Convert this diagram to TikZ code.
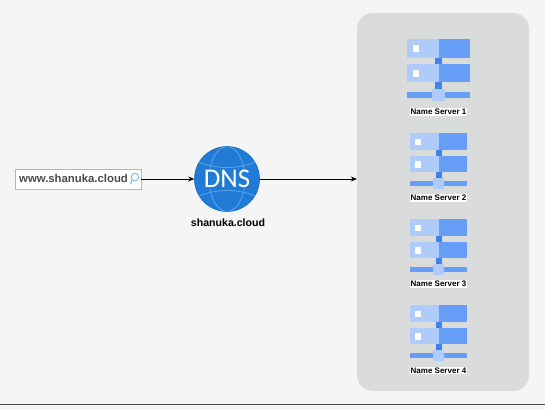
\documentclass[tikz,border=0pt]{standalone}
\usepackage{fontspec}
\setmainfont{Liberation Sans}
\newfontfamily\globeFont{Carlito}
\definecolor{pageBg}{HTML}{F4F6F5}
\definecolor{panelGrey}{HTML}{DADCDB}
\definecolor{boxLine}{HTML}{B4B6B6}
\definecolor{textGrey}{HTML}{4A4A4A}
\definecolor{dnsBlue}{HTML}{1F7BD6}
\definecolor{dnsEdge}{HTML}{1768BC}
\definecolor{dnsLine}{HTML}{5FA3E6}
\definecolor{rackPale}{HTML}{AECBFA}
\definecolor{rackMid}{HTML}{669DF6}
\definecolor{rackDark}{HTML}{3F82EC}
\definecolor{lensBlue}{HTML}{6DB8E2}
\usetikzlibrary{arrows.meta, positioning}
\tikzset{
  %% boxes
  panel/.style      = {fill=panelGrey, rounded corners=16pt, minimum width=172pt,
                       minimum height=378pt, inner sep=0pt},
  searchBox/.style  = {draw=boxLine, line width=0.9pt, fill=white, minimum width=126pt,
                       minimum height=20pt, inner sep=0pt},
  dnsGlobe/.style   = {circle, fill=dnsBlue, draw=dnsEdge, line width=0.6pt,
                       minimum size=65pt, inner sep=0pt},
  %% arrows
  fleche/.style     = {-{Stealth[length=6pt, width=5pt]}, draw=black, line width=0.8pt},
  %% text
  urlText/.style    = {font=\fontsize{11.35}{14}\selectfont\bfseries, text=textGrey, inner sep=0pt},
  dnsName/.style    = {font=\fontsize{10.6}{14}\selectfont\bfseries, text=black, inner sep=0pt},
  serverName/.style = {font=\fontsize{8}{10}\selectfont\bfseries, text=black, fill=white,
                       inner xsep=0.8pt, inner ysep=1pt},
  %% server icon, drawn around its top centre, 57 wide and 56 high
  pics/serverIcon/.style = {code={
    \fill[rackPale] (-28.5,0) rectangle (0,17);
    \fill[rackMid] (0,0) rectangle (28.5,17);
    \fill[rackDark] (-3,17) rectangle (3,23);
    \fill[rackPale] (-28.5,23) rectangle (0,39);
    \fill[rackMid] (0,23) rectangle (28.5,39);
    \fill[rackDark] (-3,39) rectangle (3,45);
    \fill[white] (-23.5,5.5) rectangle (-17.5,12);
    \fill[white] (-23.5,28) rectangle (-17.5,34.5);
    \fill[rackMid] (-28.5,48) rectangle (28.5,53);
    \fill[rackPale] (-5.5,45) rectangle (5.5,56);
  }},
}
\begin{document}
\begin{tikzpicture}[x=1pt, y=-1pt]

\useasboundingbox (0,0) rectangle (545,410);
\fill[pageBg] (0,0) rectangle (545,410);
\draw[textGrey, line width=1pt] (0,404.5) -- (545,404.5);

\node[panel] (panneau) at (443,202) {};

\node[searchBox] (recherche) at (78,179) {};
\node[urlText, anchor=west] (url) at (19,178.5) {www.shanuka.cloud};
\node[circle, draw=lensBlue, line width=0.9pt, minimum size=7.5pt, inner sep=0pt] (loupe) at (135,177) {};
\coordinate (manche) at (130.5,184);
\draw[lensBlue, line width=1.1pt] (loupe.south west) -- (manche);

\node[dnsGlobe] (dns) at (227,179) {};
\begin{scope}[dnsLine, line width=0.8pt]
  \clip (dns.center) circle (32.5);
  \draw (dns.center) ellipse (18 and 32.5);
  \draw (194,160) .. controls (215,170) and (239,170) .. (260,160);
  \draw (194,198) .. controls (215,188) and (239,188) .. (260,198);
\end{scope}
\node[font=\globeFont\fontsize{27}{30}\selectfont, text=white, fill=dnsBlue, inner xsep=1pt, inner ysep=0pt] (sigle) at (dns.center) {DNS};
\node[dnsName] (domaine) at (228,223) {shanuka.cloud};

\draw[fleche] (recherche.east) -- (dns.west);
\draw[fleche] (dns.east) -- (panneau.west |- dns.east);

\begin{scope}[shift={(438.5,39)}, x=1.105pt, y=-1.105pt]
  \pic (icone1) at (0,0) {serverIcon};
\end{scope}
\pic (icone2) at (438.5,133) {serverIcon};
\pic (icone3) at (438.5,219) {serverIcon};
\pic (icone4) at (438.5,305) {serverIcon};

\node[serverName] (ns1) at (438.5,112) {Name Server 1};
\node[serverName] (ns2) at (438.5,198) {Name Server 2};
\node[serverName] (ns3) at (438.5,284) {Name Server 3};
\node[serverName] (ns4) at (438.5,370.5) {Name Server 4};

\end{tikzpicture}
\end{document}
